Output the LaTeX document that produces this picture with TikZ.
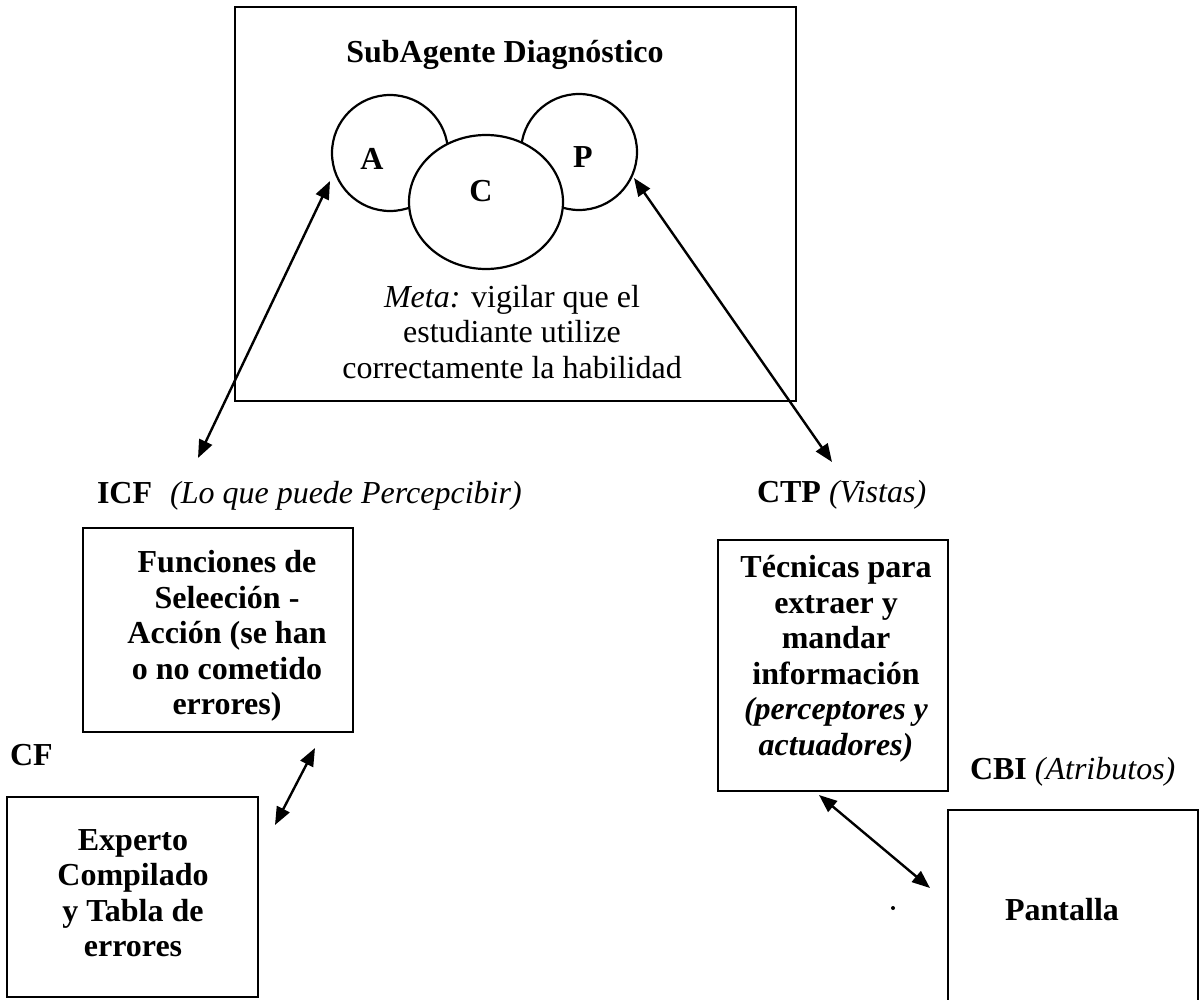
\documentclass[tikz,border=0pt]{standalone}
\usepackage{fontspec}
\setmainfont{Liberation Serif}
\usetikzlibrary{shapes.geometric,arrows.meta}
\begin{document}
\begin{tikzpicture}[x=1pt,y=-1pt,
  every node/.style={inner sep=0pt, outer sep=0pt, font=\fontsize{32}{35.5}\selectfont},
  frame/.style={draw, line width=2.6pt, rectangle},
  ring/.style={draw, line width=2.2pt, circle, minimum size=116pt},
  boldtext/.style={align=center, font=\fontsize{32}{35.5}\selectfont\bfseries},
  plaintext/.style={align=center},
  tag/.style={anchor=west, font=\fontsize{32}{35.5}\selectfont},
  link/.style={line width=2.4pt, {Triangle[length=18pt,width=14pt]}-{Triangle[length=18pt,width=14pt]}}
]
\useasboundingbox (0,0) rectangle (1201,1000);
\fill[white] (0,0) rectangle (1201,1000);

% ---- SubAgente Diagnostico ----
\node[frame, minimum width=561pt, minimum height=394pt] (main) at (515.5,204) {};
\node[boldtext] (title) at (505,55) {SubAgente Diagnóstico};
\node[ring] (A) at (390,153) {};
\node[ring] (P) at (579,152) {};
\node[draw, line width=2.2pt, ellipse, fill=white, minimum width=154pt, minimum height=134pt] (C) at (486,202) {};
\node[boldtext] (Alabel) at (372,159) {A};
\node[boldtext] (Clabel) at (481,191) {C};
\node[boldtext] (Plabel) at (583,157) {P};
\node[plaintext] (meta) at (512,332) {\textit{Meta:} vigilar que el\\estudiante utilize\\correctamente la habilidad};

% ---- ICF ----
\node[tag] (icf) at (97,496) {\textbf{ICF}\hspace{18pt}\textit{(Lo que puede Percepcibir)}};
\node[frame, minimum width=270pt, minimum height=204pt] (funcbox) at (218,630) {};
\node[boldtext] (functext) at (227,636) {Funciones de\\Seleeción -\\Acción (se han\\o no cometido\\errores)};

% ---- CF ----
\node[tag] (cf) at (10,755) {\textbf{CF}};
\node[frame, minimum width=251pt, minimum height=200pt] (expbox) at (132.5,897) {};
\node[boldtext] (exptext) at (133,893) {Experto\\Compilado\\y Tabla de\\errores};

% ---- CTP ----
\node[tag] (ctp) at (757,495) {\textbf{CTP} \textit{(Vistas)}};
\node[frame, minimum width=230pt, minimum height=251pt] (tecbox) at (833,665.5) {};
\node[boldtext] (tectext) at (836,659) {Técnicas para\\extraer y\\mandar\\información\\\textit{(perceptores y}\\\textit{actuadores)}};

% ---- CBI ----
\node[tag] (cbi) at (970,772) {\textbf{CBI} \textit{(Atributos)}};
\node[frame, minimum width=250pt, minimum height=200pt] (pantbox) at (1073,910) {};
\node[boldtext] (panttext) at (1062,910) {Pantalla};
\node[circle, fill, minimum size=4pt] (speck) at (893,908) {};

% ---- connectors ----
\coordinate (aEnd) at (330,181);
\coordinate (icfEnd) at (198,458);
\coordinate (pEnd) at (634,178);
\coordinate (ctpEnd) at (832,462);
\coordinate (funcEnd) at (315,748);
\coordinate (expEnd) at (275,825);
\coordinate (tecEnd) at (819,795);
\coordinate (pantEnd) at (930,888);
\draw[link] (aEnd) -- (icfEnd);
\draw[link] (pEnd) -- (ctpEnd);
\draw[link] (funcEnd) -- (expEnd);
\draw[link] (tecEnd) -- (pantEnd);
\end{tikzpicture}
\end{document}
